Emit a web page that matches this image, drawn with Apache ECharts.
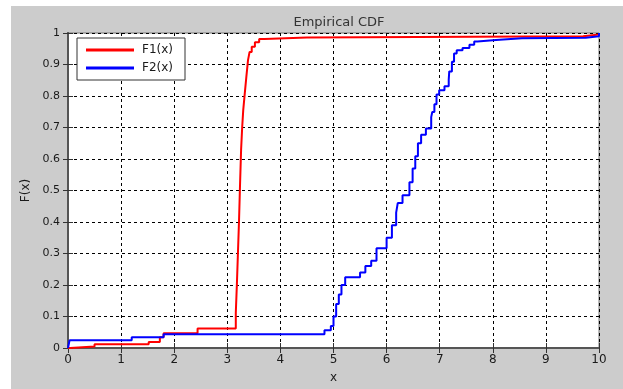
<!DOCTYPE html>
<html>
<head>
<meta charset="utf-8">
<script src="https://cdn.jsdelivr.net/npm/echarts@6/dist/echarts.min.js"></script>
<style>
  html, body { margin: 0; padding: 0; background: #ffffff; width: 623px; height: 389px; overflow: hidden; }
  #chart { position: absolute; left: 11px; top: 6px; width: 612px; height: 383px; background: #cccccc; }
</style>
</head>
<body>
<div id="chart"></div>
<script>
// Empirical CDF of two samples: each point is (x where the step happens, new F value)
const f1X = [0, 0.04, 0.5, 1.52, 1.73, 1.8, 2.44, 3.16, 3.18, 3.2, 3.22, 3.24, 3.26, 3.28, 3.3, 3.33, 3.36, 3.39, 3.42, 3.46, 3.52, 3.6, 3.7, 4.5, 9.7, 10];
const f1Y = [0, 0.005, 0.012, 0.019, 0.034, 0.047, 0.062, 0.112, 0.2, 0.3, 0.4, 0.52, 0.63, 0.7, 0.755, 0.81, 0.863, 0.914, 0.94, 0.956, 0.971, 0.981, 0.986, 0.99, 0.995, 1.0];

const f2X = [0, 0.03, 1.2, 1.8, 4.83, 4.95, 5.0, 5.05, 5.1, 5.15, 5.22, 5.5, 5.6, 5.71, 5.81, 6.0, 6.1, 6.18, 6.21, 6.3, 6.43, 6.49, 6.54, 6.59, 6.65, 6.74, 6.84, 6.86, 6.9, 6.94, 6.99, 7.09, 7.17, 7.18, 7.23, 7.27, 7.32, 7.43, 7.56, 7.65, 7.71, 8.06, 8.55, 9.75, 10];
const f2Y = [0, 0.025, 0.034, 0.044, 0.056, 0.07, 0.1, 0.14, 0.17, 0.2, 0.225, 0.24, 0.26, 0.277, 0.317, 0.35, 0.39, 0.43, 0.46, 0.485, 0.526, 0.57, 0.609, 0.65, 0.677, 0.697, 0.733, 0.749, 0.774, 0.805, 0.818, 0.831, 0.852, 0.878, 0.909, 0.935, 0.945, 0.952, 0.963, 0.973, 0.978, 0.983, 0.985, 0.99, 1.0];

const xTicks = [0, 1, 2, 3, 4, 5, 6, 7, 8, 9, 10];
const yTicks = [0, 0.1, 0.2, 0.3, 0.4, 0.5, 0.6, 0.7, 0.8, 0.9, 1];

const pairs = (xs, ys) => xs.map((x, i) => [x, ys[i]]);

const chart = echarts.init(document.getElementById('chart'), null, { renderer: 'canvas' });
const textColor = '#1a1a1a';
const gridLine = { show: true, lineStyle: { color: '#000000', type: [3, 3], width: 1 } };

chart.setOption({
  animation: false,
  backgroundColor: '#cccccc',
  textStyle: { fontFamily: 'DejaVu Sans, Arial, sans-serif' },
  title: {
    text: 'Empirical CDF',
    left: 323, top: 5, textAlign: 'center',
    textStyle: { fontSize: 13, fontWeight: 'normal', color: '#333333', fontFamily: 'DejaVu Sans' }
  },
  grid: {
    left: 57, top: 27, right: 24, bottom: 33,
    show: true, backgroundColor: '#ffffff', borderColor: '#777777', borderWidth: 1
  },
  legend: {
    orient: 'vertical', left: 66, top: 32,
    backgroundColor: '#ffffff', borderColor: '#333333', borderWidth: 1,
    padding: [6, 12, 6, 9], itemGap: 6,
    itemWidth: 48, itemHeight: 3, icon: 'rect',
    textStyle: { fontSize: 12, color: textColor, padding: [0, 0, 0, 3], fontFamily: 'DejaVu Sans' },
    data: ['F1(x)', 'F2(x)']
  },
  xAxis: [{
    type: 'value', min: 0, max: 10, interval: 1,
    name: 'x', nameLocation: 'middle', nameGap: 24,
    nameTextStyle: { fontSize: 12, color: textColor, fontFamily: 'DejaVu Sans' },
    axisLine: { show: true, lineStyle: { color: '#555555', width: 2 } },
    axisTick: { show: true, inside: true, length: 5, lineStyle: { color: '#333333' } },
    axisLabel: { fontSize: 12, color: textColor, margin: 6, fontFamily: 'DejaVu Sans',
      formatter: v => xTicks.includes(v) ? String(v) : '' },
    splitLine: gridLine
  }, {
    type: 'value', min: 0, max: 10, interval: 1, position: 'top',
    axisLine: { show: false },
    axisTick: { show: true, inside: true, length: 5, lineStyle: { color: '#333333' } },
    axisLabel: { show: false }, splitLine: { show: false }
  }],
  yAxis: [{
    type: 'value', min: 0, max: 1, interval: 0.1,
    name: 'F(x)', nameLocation: 'middle', nameGap: 33,
    nameTextStyle: { fontSize: 12, color: textColor, fontFamily: 'DejaVu Sans' },
    axisLine: { show: true, lineStyle: { color: '#555555', width: 2 } },
    axisTick: { show: true, inside: true, length: 5, lineStyle: { color: '#333333' } },
    axisLabel: { fontSize: 11, color: textColor, margin: 8, fontFamily: 'DejaVu Sans',
      formatter: v => { const t = yTicks.find(k => Math.abs(k - v) < 1e-9); return t === undefined ? '' : String(t); } },
    splitLine: gridLine
  }, {
    type: 'value', min: 0, max: 1, interval: 0.1, position: 'right',
    axisLine: { show: true, lineStyle: { color: '#555555', width: 2 } },
    axisTick: { show: true, inside: true, length: 5, lineStyle: { color: '#333333' } },
    axisLabel: { show: false }, splitLine: { show: false }
  }],
  series: [{
    name: 'F1(x)', type: 'line', step: 'end', showSymbol: false,
    data: pairs(f1X, f1Y),
    lineStyle: { color: '#ff0000', width: 2 }, itemStyle: { color: '#ff0000' }
  }, {
    name: 'F2(x)', type: 'line', step: 'end', showSymbol: false,
    data: pairs(f2X, f2Y),
    lineStyle: { color: '#0000ff', width: 2 }, itemStyle: { color: '#0000ff' }
  }]
});
</script>
</body>
</html>
